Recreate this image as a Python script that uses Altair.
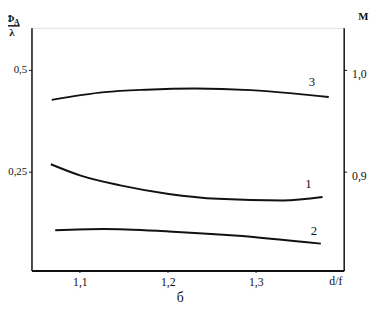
import altair as alt
import pandas as pd

# curve data: x = d/f, y = Phi_A / lambda
c3_x = [1.068, 1.128, 1.175, 1.231, 1.294, 1.342, 1.383]
c3_y = [0.426, 0.445, 0.451, 0.454, 0.450, 0.442, 0.433]
c1_x = [1.067, 1.101, 1.146, 1.201, 1.257, 1.331, 1.376]
c1_y = [0.268, 0.240, 0.216, 0.195, 0.183, 0.179, 0.1875]
c2_x = [1.072, 1.127, 1.201, 1.276, 1.374]
c2_y = [0.106, 0.109, 0.103, 0.093, 0.073]

curve_names = ["3", "1", "2"]
label_x = [1.364, 1.360, 1.366]
label_y = [0.469, 0.219, 0.103]

x_ticks = [1.1, 1.2, 1.3]
left_ticks = [0.25, 0.5]
right_ticks = [0.9, 1.0]

X_DOM = [1.045, 1.4]
Y_DOM = [0.007, 0.603]
M_DOM = [0.8028, 1.0412]

rows = []
for name, xs, ys in [("3", c3_x, c3_y), ("1", c1_x, c1_y), ("2", c2_x, c2_y)]:
    for xv, yv in zip(xs, ys):
        rows.append({"curve": name, "x": xv, "y": yv})
df = pd.DataFrame(rows)
lab = pd.DataFrame({"curve": curve_names, "x": label_x, "y": label_y})
mdf = pd.DataFrame({"m": right_ticks, "x": [1.2, 1.2]})

FONT = "Liberation Serif"
INK = "#111111"

XS = alt.Scale(domain=X_DOM, nice=False, zero=False)
YS = alt.Scale(domain=Y_DOM, nice=False, zero=False)

xenc = alt.X("x:Q", scale=XS,
             axis=alt.Axis(values=x_ticks, title=None, grid=False, domain=True, ticks=True,
                           zindex=1,
                           labelExpr="replace(format(datum.value, '.1f'), '.', ',')",
                           tickSize=2, labelPadding=4, domainColor=INK, tickColor=INK,
                           domainWidth=2, labelFont=FONT, labelFontSize=12,
                           labelColor=INK))

lines = alt.Chart(df).mark_line(interpolate="monotone", color=INK, strokeWidth=2).encode(
    x=xenc,
    y=alt.Y("y:Q", scale=YS,
            axis=alt.Axis(values=left_ticks, title=None, grid=False, orient="left",
                          labelExpr="replace(format(datum.value, '.2~f'), '.', ',')",
                          tickSize=3, labelPadding=2, labelAlign="right",
                          domainColor=INK, tickColor=INK, domainWidth=1.5,
                          labelFont=FONT, labelFontSize=11, labelColor=INK)),
    detail="curve:N",
)

right = alt.Chart(mdf).mark_point(opacity=0).encode(
    x=xenc,
    y=alt.Y("m:Q", scale=alt.Scale(domain=M_DOM, nice=False, zero=False),
            axis=alt.Axis(values=right_ticks, title=None, grid=False, orient="right",
                          labelExpr="replace(format(datum.value, '.1f'), '.', ',')",
                          tickSize=3, labelPadding=5, labelOffset=4,
                          domainColor=INK, tickColor=INK, domainWidth=1.5,
                          labelFont=FONT, labelFontSize=12, labelColor=INK)),
)

labels = alt.Chart(lab).mark_text(font=FONT, fontSize=13, color=INK).encode(
    x=alt.X("x:Q", scale=XS),
    y=alt.Y("y:Q", scale=YS, axis=None),
    text="curve:N",
)

# annotations (pixel positions relative to plot area)
def txt(s, x, y, size=12, weight="normal"):
    return alt.Chart(pd.DataFrame({"t": [s]})).mark_text(
        font=FONT, fontSize=size, color=INK, fontWeight=weight).encode(
        x=alt.value(x), y=alt.value(y), text="t:N")

phi = txt("Φ", -22, -9, 11, "bold")
sub = txt("A", -15, -5, 8, "bold")
lam = txt("λ", -20, 5, 11, "bold")
frac = alt.Chart(pd.DataFrame({"a": [0]})).mark_rule(color=INK, strokeWidth=1.5).encode(
    x=alt.value(-30), x2=alt.value(-12), y=alt.value(-2))
mlab = txt("M", 339, -11, 11, "bold")
df_lab = txt("d/f", 311, 259, 12)
b_lab = txt("б", 152, 276, 14)

chart = alt.layer(lines, right, frac, labels, phi, sub, lam, mlab, df_lab, b_lab).resolve_scale(
    y="independent"
).properties(
    width=319, height=248,
    autosize=alt.AutoSizeParams(type="none"),
    padding={"left": 24, "top": 17, "right": 33, "bottom": 32},
).configure_view(stroke=None).configure(background="white")

chart.save("out.html", embed_options={"renderer": "svg", "actions": False})
